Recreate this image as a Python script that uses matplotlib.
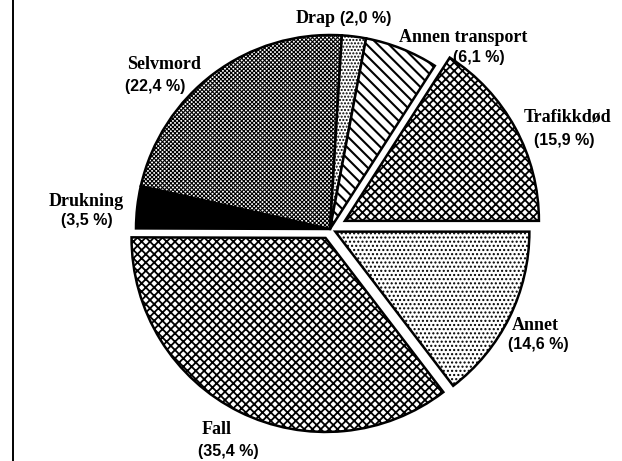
import matplotlib
matplotlib.use("Agg")
from matplotlib import pyplot as plt

# slices in drawing order, clockwise from 3 o'clock
labels = ["Annet", "Fall", "Drukning", "Selvmord", "Drap", "Annen transport", "Trafikkdød"]
shares = [14.6, 35.4, 3.5, 22.4, 2.0, 6.1, 15.9]

hatches = ["....", "xxxx", "", "x" * 8, ".....", "\\\\\\", "xxxx"]
hatch_lw = [1.0, 1.3, 1.0, 0.8, 1.0, 1.5, 1.3]
faces = ["white", "white", "black", "white", "white", "white", "white"]
explode = [6, 10, 0, 0, 0, 0, 17]  # offsets in pixels

W, H = 622, 461
plt.rcParams["hatch.linewidth"] = 1.2


def fmt(v):
    return "(" + f"{v:.1f}".replace(".", ",") + " %)"


fig = plt.figure(figsize=(W / 100, H / 100), dpi=100)
ax = fig.add_axes([0, 0, 1, 1])

wedges, _ = ax.pie(shares, explode=explode, startangle=0, counterclock=False,
                   center=(330, H - 229), radius=194, colors=faces,
                   wedgeprops=dict(edgecolor="black", linewidth=1.8))
for w, h, lw in zip(wedges, hatches, hatch_lw):
    w.set_hatch(h)
    if hasattr(w, "set_hatch_linewidth"):
        w.set_hatch_linewidth(lw)

ax.set_xlim(0, W)
ax.set_ylim(0, H)
ax.set_aspect("equal")
ax.axis("off")
ax.axvline(13, color="black", linewidth=1.4)

# label placement in image pixels (x, y of name, y of value)
name_font = dict(family="Liberation Serif", weight="bold", size=13)
val_font = dict(family="Liberation Sans", weight="bold", size=11.5)
label_pos = {
    "Annet": (535, 326, 538, 345),
    "Fall": (217, 429, 228, 451),
    "Drukning": (86, 202, 87, 221),
    "Selvmord": (164, 65, 155, 86),
    "Annen transport": (463, 38, 479, 58),
    "Trafikkdød": (568, 117, 564, 140),
}
for name, v in zip(labels, shares):
    if name == "Drap":
        ax.text(336, H - 19, name, ha="right", va="center", **name_font)
        ax.text(340, H - 19, fmt(v), ha="left", va="center", **val_font)
        continue
    nx, ny, vx, vy = label_pos[name]
    ax.text(nx, H - ny, name, ha="center", va="center", **name_font)
    ax.text(vx, H - vy, fmt(v), ha="center", va="center", **val_font)

fig.savefig("out.png", dpi=100)
